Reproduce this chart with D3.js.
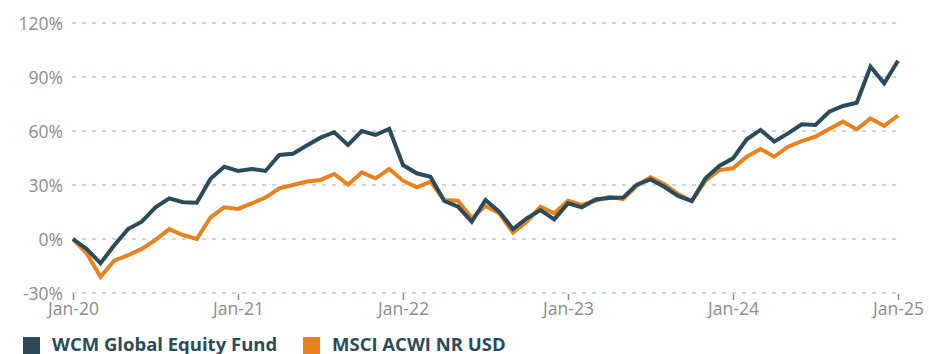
<!DOCTYPE html>
<html>
<head>
<meta charset="utf-8">
<script src="https://cdn.jsdelivr.net/npm/d3@7"></script>
<style>
  html, body { margin: 0; padding: 0; background: #fff; overflow: hidden; }
  svg { display: block; font-family: "Open Sans", sans-serif; }
</style>
</head>
<body>
<svg id="chart" width="929" height="354"></svg>
<script>
// Cumulative return (%) month by month, Jan-20 through Jan-25
const seriesNames = ["WCM Global Equity Fund", "MSCI ACWI NR USD"];
const seriesColors = ["#2b4a5a", "#e8821e"];
const fundValues = [
  0, -5.5, -13.5, -3.5, 5.5, 9.6, 17.6, 22.6, 20.4, 20.2, 33.4, 40.2,
  37.8, 38.9, 37.8, 46.7, 47.4, 51.9, 56.3, 59.3, 52.3, 60, 57.8, 61.1,
  41.1, 36.5, 34.6, 21.1, 18, 9.6, 21.7, 15.2, 5.5, 11.5, 16.1, 10.9,
  19.8, 17.6, 22, 22.8, 23, 30.2, 33.1, 29, 23.9, 21.1, 33.7, 40.6,
  44.8, 55.4, 60.6, 54.1, 58.7, 63.7, 63.3, 70.7, 73.9, 75.7, 95.7, 86.5, 99
];
const indexValues = [
  0, -8, -21, -12, -9, -5.5, -0.5, 5.5, 2.2, 0, 12, 17.6,
  16.7, 19.8, 23, 28.1, 30, 31.9, 32.8, 36.1, 30.2, 37, 33.7, 38.9,
  32.4, 28.7, 31.9, 21.7, 21.3, 11.5, 18.4, 14.3, 3.5, 9.6, 18, 14.3,
  21.3, 18.9, 21.3, 23.5, 22.2, 29.6, 34.3, 30.4, 25, 21, 32.4, 38.3,
  39.3, 45.7, 50, 45.7, 51.3, 54.4, 56.9, 61.1, 65.2, 60.9, 67, 62.8, 68.6
];
const yTicks = [-30, 0, 30, 60, 90, 120];
const xTickLabels = ["Jan-20", "Jan-21", "Jan-22", "Jan-23", "Jan-24", "Jan-25"];

const svg = d3.select("#chart");
const plotLeft = 73, plotRight = 898, plotTop = 23, plotBottom = 293;

const x = d3.scaleLinear().domain([0, fundValues.length - 1]).range([plotLeft, plotRight]);
const y = d3.scaleLinear().domain([-30, 120]).range([plotBottom, plotTop]);

// dashed horizontal grid
svg.append("g")
  .selectAll("line")
  .data(yTicks)
  .join("line")
  .attr("x1", plotLeft - 1)
  .attr("x2", plotRight)
  .attr("y1", d => y(d))
  .attr("y2", d => y(d))
  .attr("stroke", "#c9d9dd")
  .attr("stroke-width", 2)
  .attr("stroke-dasharray", "4 6");

// y axis labels
const yAxis = d3.axisLeft(y).tickValues(yTicks).tickSize(0).tickPadding(0)
  .tickFormat(d => d + "%");
svg.append("g")
  .attr("transform", `translate(${plotLeft - 10},0)`)
  .call(yAxis)
  .call(g => g.select(".domain").remove())
  .call(g => g.selectAll("text")
    .attr("fill", "#8c8c8c")
    .attr("font-size", 17.5)
    .attr("font-family", "Open Sans, sans-serif")
    .attr("dy", "0.35em"));

// x axis: yearly ticks
const xAxis = d3.axisBottom(x)
  .tickValues(xTickLabels.map((_, i) => i * 12))
  .tickFormat((d, i) => xTickLabels[i])
  .tickSize(6)
  .tickPadding(3);
svg.append("g")
  .attr("transform", `translate(0,${plotBottom + 1})`)
  .call(xAxis)
  .call(g => g.select(".domain").remove())
  .call(g => g.selectAll(".tick line").attr("stroke", "#8c8c8c").attr("stroke-width", 1.5))
  .call(g => g.selectAll("text")
    .attr("fill", "#8c8c8c")
    .attr("font-size", 17.5)
    .attr("font-family", "Open Sans, sans-serif"));

// lines: index first, fund on top
const line = d3.line().x((d, i) => x(i)).y(d => y(d));
[indexValues, fundValues].forEach((vals, k) => {
  svg.append("path")
    .datum(vals)
    .attr("fill", "none")
    .attr("stroke", seriesColors[1 - k])
    .attr("stroke-width", 4)
    .attr("stroke-linejoin", "miter")
    .attr("d", line);
});

// legend
const legendX = [23, 303];
const legend = svg.append("g");
seriesNames.forEach((name, i) => {
  legend.append("rect")
    .attr("x", legendX[i])
    .attr("y", 337)
    .attr("width", 17)
    .attr("height", 17)
    .attr("fill", seriesColors[i]);
  legend.append("text")
    .attr("x", legendX[i] + 29)
    .attr("y", 351)
    .attr("fill", "#2b4a5a")
    .attr("font-size", 18.5)
    .attr("font-weight", 700)
    .attr("font-family", "Open Sans, sans-serif")
    .text(name);
});
</script>
</body>
</html>
